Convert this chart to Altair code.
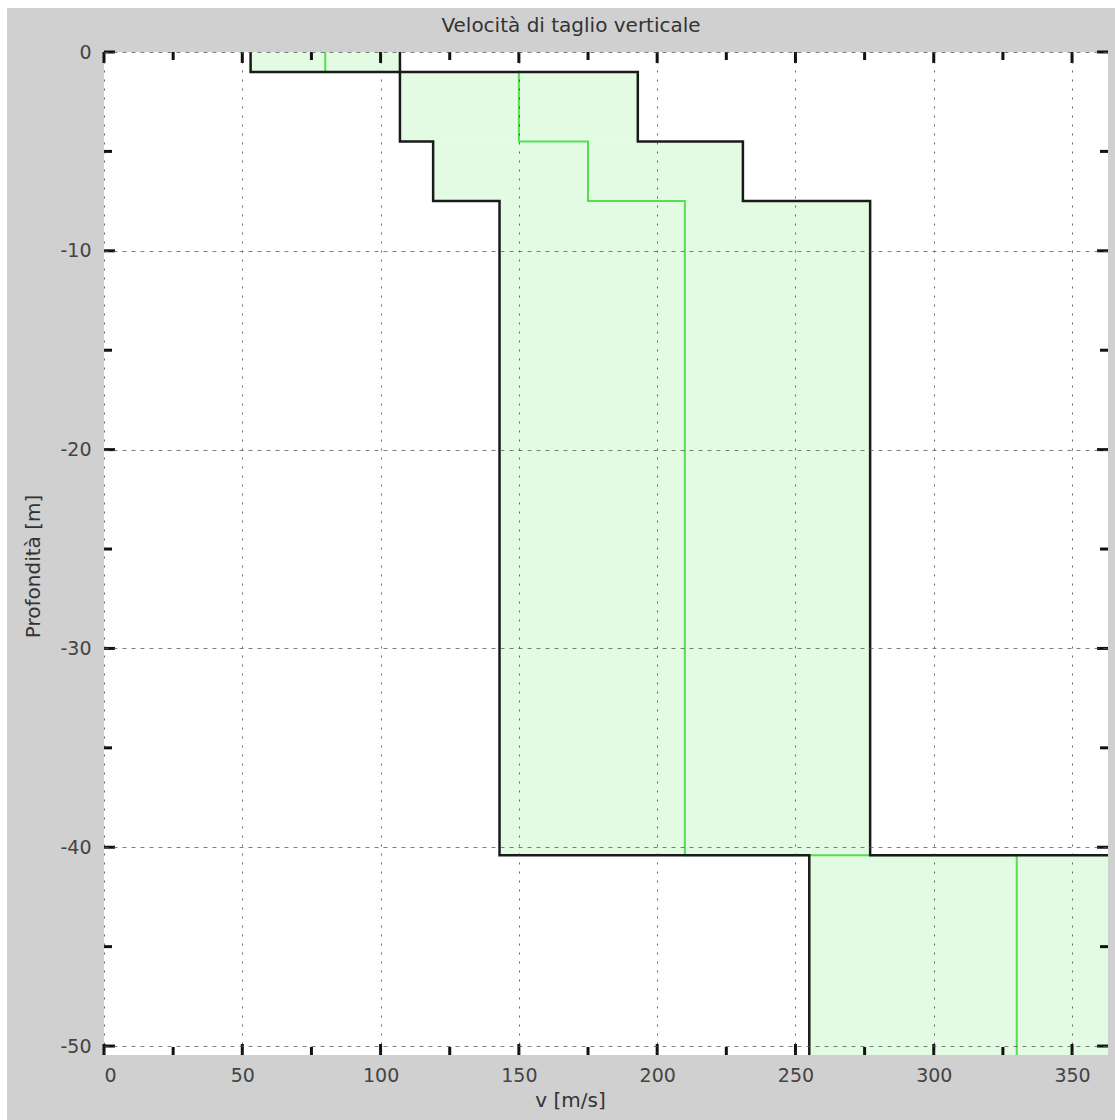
import altair as alt
import pandas as pd

# ---- data ----
depth_top = [0.0, -1.0, -4.5, -7.5, -40.4]
depth_bottom = [-1.0, -4.5, -7.5, -40.4, -50.45]
vs_min = [53, 107, 119, 143, 255]
vs_mean = [80, 150, 175, 210, 330]
vs_max = [107, 193, 231, 277, 405]

x_major = [0, 50, 100, 150, 200, 250, 300, 350]
x_minor = [25, 75, 125, 175, 225, 275, 325]
y_major = [0, -10, -20, -30, -40, -50]
y_minor = [-5, -15, -25, -35, -45]

X_DOMAIN = [0, 363]
Y_DOMAIN = [-50.45, 0]

W, H = 1004, 1003
PAD = {"left": 104, "top": 52, "right": 7, "bottom": 65}
FONT = "DejaVu Sans"
FS_LAB = 19
FS_TIT = 20
GRAY = "#d0d0d0"

layers_df = pd.DataFrame({
    "top": depth_top, "bottom": depth_bottom,
    "vmin": vs_min, "vmax": vs_max, "vmean": vs_mean,
})

rows = []
for name, vals in (("min", vs_min), ("max", vs_max), ("mean", vs_mean)):
    i = 0
    for v, t, b in zip(vals, depth_top, depth_bottom):
        rows.append({"series": name, "i": i, "v": v, "d": t}); i += 1
        rows.append({"series": name, "i": i, "v": v, "d": b}); i += 1
lines_df = pd.DataFrame(rows)

xs = alt.Scale(domain=X_DOMAIN, nice=False, zero=False)
ys = alt.Scale(domain=Y_DOMAIN, nice=False, zero=False)

xaxis = alt.Axis(
    values=x_major, title="v [m/s]", grid=True, gridDash=[2, 7], gridColor="#333",
    gridWidth=1, gridOpacity=0.75, ticks=False, domain=False, labelPadding=11,
    labelFontSize=FS_LAB, labelFont=FONT, labelColor="#444", titleFont=FONT,
    titleFontSize=FS_TIT, titleFontWeight="normal", titleColor="#333",
    titleX=466, titleY=45, titleBaseline="middle", titleAnchor="start",
    titleAlign="center", zindex=1,
)
yaxis = alt.Axis(
    values=y_major, title="Profondità [m]", grid=True, gridDash=[4, 5], gridColor="#555",
    gridWidth=1, gridOpacity=0.75, ticks=False, domain=False, labelPadding=13,
    labelFontSize=FS_LAB, labelFont=FONT, labelColor="#444",
    labelExpr="datum.value == 0 ? '0' : '-' + abs(datum.value)",
    titleFont=FONT, titleFontSize=FS_TIT, titleFontWeight="normal", titleColor="#333",
    titleX=-71, titleY=514, titleBaseline="middle", titleAlign="center", zindex=1,
)

# decorative panel: gray frame around a white plot area
one = pd.DataFrame({"k": [0]})
panel = alt.Chart(one).mark_rect(color=GRAY, clip=False).encode(
    x=alt.value(-PAD["left"] + 7), x2=alt.value(W + PAD["right"]),
    y=alt.value(-PAD["top"] + 8), y2=alt.value(H + PAD["bottom"]),
)
plotbg = alt.Chart(one).mark_rect(color="white").encode(
    x=alt.value(0), x2=alt.value(W), y=alt.value(0), y2=alt.value(H),
)

fill = alt.Chart(layers_df).mark_rect(color="#e2fbe2", clip=True).encode(
    x=alt.X("vmin:Q", scale=xs, axis=xaxis),
    x2="vmax:Q",
    y=alt.Y("top:Q", scale=ys, axis=yaxis),
    y2="bottom:Q",
)

mean_line = alt.Chart(lines_df).transform_filter(alt.datum.series == "mean").mark_line(
    color="#52e052", strokeWidth=2, clip=True
).encode(
    x=alt.X("v:Q", scale=xs, axis=xaxis),
    y=alt.Y("d:Q", scale=ys, axis=yaxis),
    order="i:Q",
)

env_lines = alt.Chart(lines_df).transform_filter(alt.datum.series != "mean").mark_line(
    color="#1a1a1a", strokeWidth=2.5, clip=True
).encode(
    x=alt.X("v:Q", scale=xs, axis=xaxis),
    y=alt.Y("d:Q", scale=ys, axis=yaxis),
    detail="series:N",
    order="i:Q",
)

xmaj_df = pd.DataFrame({"t": x_major})
xmin_df = pd.DataFrame({"t": x_minor})
ymaj_df = pd.DataFrame({"t": y_major})
ymin_df = pd.DataFrame({"t": y_minor})

TICK = dict(color="#111", strokeWidth=3)


def xticks(df, length):
    base = alt.Chart(df).mark_rule(**TICK)
    enc_x = alt.X("t:Q", scale=xs, axis=xaxis)
    top = base.encode(x=enc_x, y=alt.value(0), y2=alt.value(length))
    bot = base.encode(x=enc_x, y=alt.value(H), y2=alt.value(H - length))
    return top + bot


def yticks(df, length):
    base = alt.Chart(df).mark_rule(**TICK)
    enc_y = alt.Y("t:Q", scale=ys, axis=yaxis)
    left = base.encode(y=enc_y, x=alt.value(0), x2=alt.value(length))
    right = base.encode(y=enc_y, x=alt.value(W), x2=alt.value(W - length))
    return left + right


chart = alt.layer(
    panel, plotbg, fill, mean_line, env_lines,
    xticks(xmaj_df, 11), xticks(xmin_df, 8),
    yticks(ymaj_df, 11), yticks(ymin_df, 8),
).properties(
    width=W, height=H,
    title=alt.TitleParams(
        "Velocità di taglio verticale", font=FONT, fontSize=FS_TIT, fontWeight="normal",
        color="#333", anchor="middle", dx=-35, offset=-28,
    ),
    autosize=alt.AutoSizeParams(type="none"),
    padding=PAD,
    background="white",
).configure_view(
    fill="white", stroke="#111", strokeWidth=3,
)

chart.save("out.html", embed_options={"renderer": "svg", "actions": False})
